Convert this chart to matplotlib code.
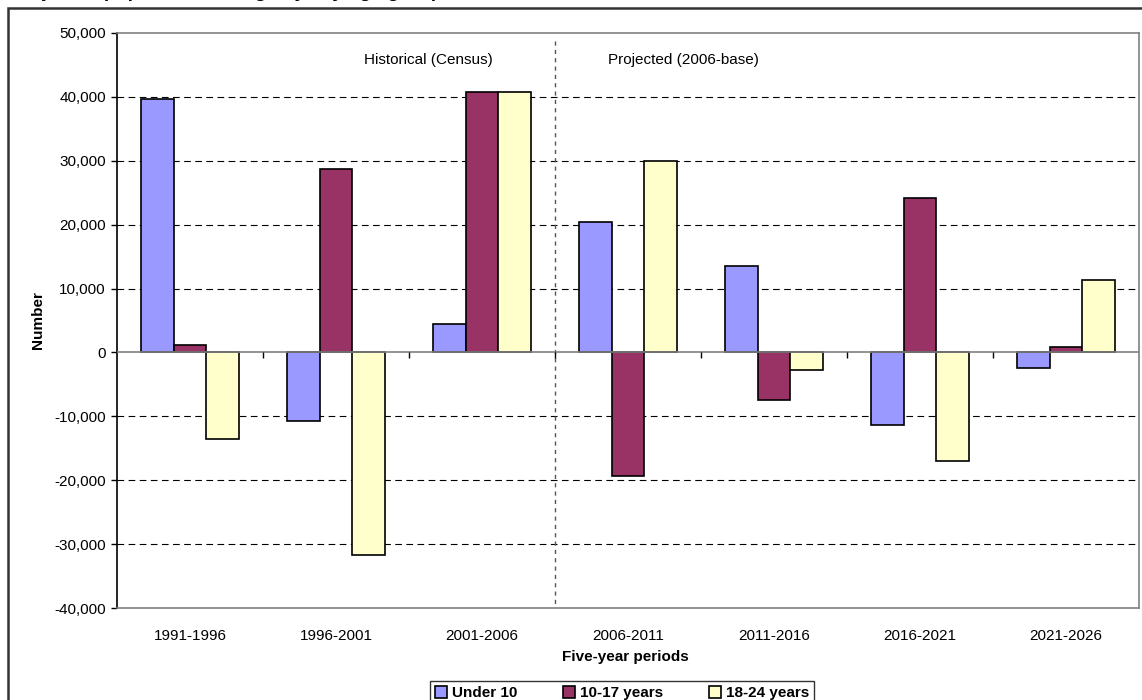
import matplotlib
matplotlib.use("Agg")
import matplotlib.pyplot as plt
from matplotlib.patches import Rectangle
from matplotlib.ticker import FuncFormatter
import numpy as np

plt.rcParams['font.family'] = ['Liberation Sans', 'DejaVu Sans']

periods = ['1991-1996', '1996-2001', '2001-2006', '2006-2011',
           '2011-2016', '2016-2021', '2021-2026']
under_10 = [39600, -10800, 4500, 20400, 13500, -11300, -2400]
age_10_17 = [1200, 28700, 40800, -19400, -7400, 24200, 800]
age_18_24 = [-13600, -31700, 40700, 29900, -2700, -17000, 11400]
series_names = ['Under 10', '10-17 years', '18-24 years']
colors = ['#9999FF', '#993366', '#FFFFCC']

fig = plt.figure(figsize=(11.42, 7.0), dpi=100)
W, H = 1142, 700
ax = fig.add_axes([117 / W, 1 - 608 / H, (1139 - 117) / W, (608 - 33) / H])

x = np.arange(len(periods))
w = 1 / 4.5
for i, (vals, name, c) in enumerate(zip([under_10, age_10_17, age_18_24], series_names, colors)):
    ax.bar(x + (i - 1) * w, vals, w, color=c, edgecolor='black', linewidth=1.2,
           label=name, zorder=3)

ax.set_xlim(-0.5, len(periods) - 0.5)
ax.set_ylim(-40000, 50000)
ax.set_yticks(np.arange(-40000, 50001, 10000))
ax.yaxis.set_major_formatter(FuncFormatter(lambda v, p: f'{int(v):,}'))
for yv in np.arange(-30000, 50000, 10000):
    if yv != 0:
        ax.axhline(yv, color='black', lw=0.8, ls=(0, (6, 4)), zorder=1)
ax.axhline(0, color='#808080', lw=1.2, zorder=4)

# category boundary ticks on the zero line
bounds = np.arange(0.5, len(periods) - 0.5, 1.0)
ax.plot(bounds, np.zeros_like(bounds), ls='', marker=3, ms=4, mew=1,
        color='black', zorder=4)

ax.set_xticks(x)
ax.set_xticklabels(periods)
ax.tick_params(axis='x', length=0, pad=15, labelsize=11)
ax.tick_params(axis='y', length=4, width=1, labelsize=11, pad=4)

for s in ['top', 'right', 'bottom']:
    ax.spines[s].set_color('#808080')
    ax.spines[s].set_linewidth(1.2)
ax.spines['left'].set_color('black')
ax.spines['left'].set_linewidth(1.2)

# split between census and projections
ax.plot([2.5, 2.5], [48800, -39600], color='#555555', lw=1, ls=(0, (3, 3)), zorder=2)
ax.text(1.63, 45700, 'Historical (Census)', ha='center', va='center', fontsize=11)
ax.text(3.38, 45700, 'Projected (2006-base)', ha='center', va='center', fontsize=11)

fig.text(38 / W, 1 - 320 / H, 'Number', rotation=90, ha='center', va='center',
         fontsize=11, fontweight='bold')
fig.text(625 / W, 1 - 657 / H, 'Five-year periods', ha='center', va='center',
         fontsize=11, fontweight='bold')
fig.text(10 / W, 1 + 3 / H, 'Projected population change by key age groups',
         ha='left', va='baseline', fontsize=14, fontweight='bold')

leg = fig.legend(loc='upper center', bbox_to_anchor=(622 / W, 1 - 673 / H), ncol=3,
                 frameon=True, fancybox=False, edgecolor='black',
                 prop={'weight': 'bold', 'size': 11}, handlelength=0.8,
                 handleheight=0.8, columnspacing=3.0, handletextpad=0.3,
                 borderpad=0.35)
leg.get_frame().set_linewidth(1.0)

fig.add_artist(Rectangle((8 / W, -0.1), 1.2, 1.1 - 8 / H, transform=fig.transFigure,
                         fill=False, edgecolor='#333333', lw=1.8))

fig.savefig('out.png', dpi=100)
